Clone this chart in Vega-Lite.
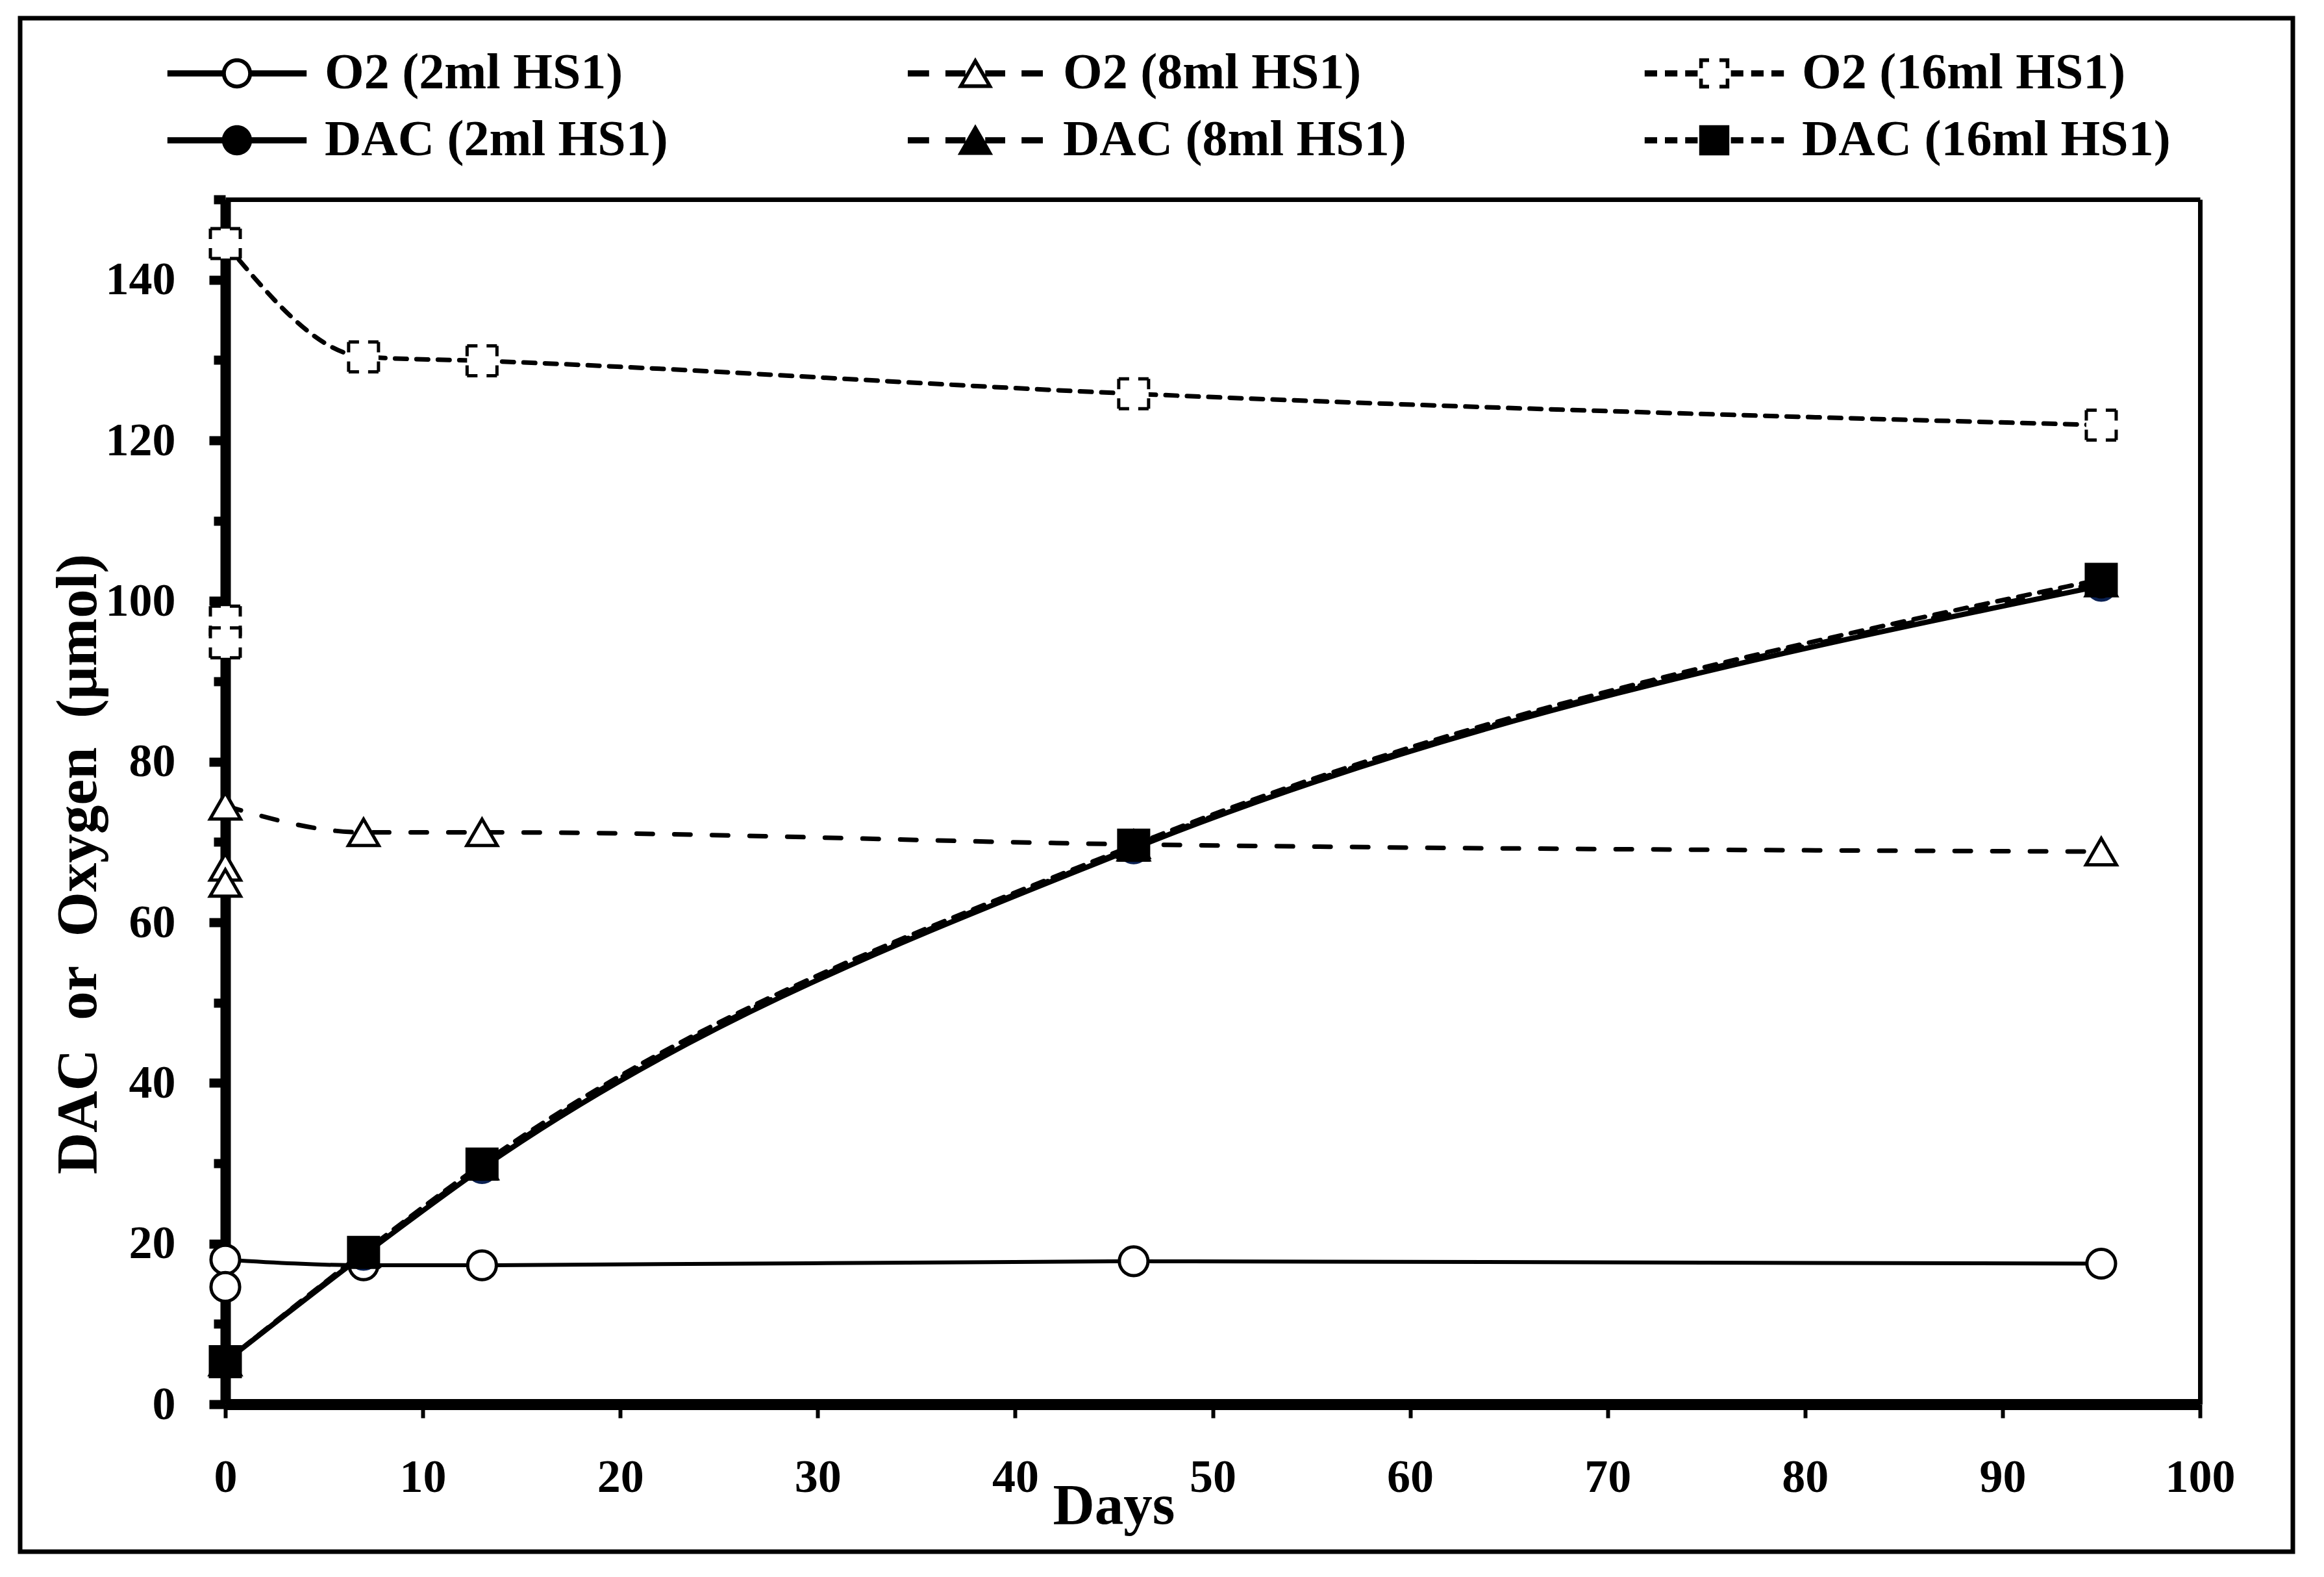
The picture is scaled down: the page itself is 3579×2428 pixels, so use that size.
{
  "$schema": "https://vega.github.io/schema/vega-lite/v6.json",
  "width": 3500,
  "height": 2361,
  "autosize": {"type": "none"},
  "padding": {"left": 31, "top": 28, "right": 48, "bottom": 39},
  "background": "white",
  "config": {
    "font": "Liberation Serif",
    "view": {"stroke": "black", "strokeWidth": 7},
    "axis": {
      "grid": false,
      "domainColor": "black",
      "tickColor": "black",
      "labelColor": "black",
      "titleColor": "black",
      "labelFont": "Liberation Serif",
      "titleFont": "Liberation Serif",
      "labelFontWeight": "bold",
      "titleFontWeight": "bold",
      "labelFlush": false,
      "labelOverlap": false
    }
  },
  "datasets": {
    "obs": [
      {"series": "O2 (2ml HS1)", "day": 0, "value": 18.0, "rep": 1},
      {"series": "O2 (2ml HS1)", "day": 7, "value": 17.3, "rep": 1},
      {"series": "O2 (2ml HS1)", "day": 13, "value": 17.3, "rep": 1},
      {"series": "O2 (2ml HS1)", "day": 46, "value": 17.8, "rep": 1},
      {"series": "O2 (2ml HS1)", "day": 95, "value": 17.5, "rep": 1},
      {"series": "O2 (2ml HS1)", "day": 0, "value": 14.6, "rep": 2},
      {"series": "O2 (8ml HS1)", "day": 0, "value": 74.5, "rep": 1},
      {"series": "O2 (8ml HS1)", "day": 7, "value": 71.2, "rep": 1},
      {"series": "O2 (8ml HS1)", "day": 13, "value": 71.2, "rep": 1},
      {"series": "O2 (8ml HS1)", "day": 46, "value": 69.7, "rep": 1},
      {"series": "O2 (8ml HS1)", "day": 95, "value": 68.8, "rep": 1},
      {"series": "O2 (8ml HS1)", "day": 0, "value": 66.9, "rep": 2},
      {"series": "O2 (8ml HS1)", "day": 0, "value": 64.9, "rep": 3},
      {"series": "O2 (16ml HS1)", "day": 0, "value": 144.5, "rep": 1},
      {"series": "O2 (16ml HS1)", "day": 7, "value": 130.4, "rep": 1},
      {"series": "O2 (16ml HS1)", "day": 13, "value": 129.9, "rep": 1},
      {"series": "O2 (16ml HS1)", "day": 46, "value": 125.8, "rep": 1},
      {"series": "O2 (16ml HS1)", "day": 95, "value": 121.9, "rep": 1},
      {"series": "O2 (16ml HS1)", "day": 0, "value": 97.5, "rep": 2},
      {"series": "O2 (16ml HS1)", "day": 0, "value": 94.8, "rep": 3},
      {"series": "DAC (2ml HS1)", "day": 0, "value": 5.3, "rep": 1},
      {"series": "DAC (2ml HS1)", "day": 7, "value": 18.6, "rep": 1},
      {"series": "DAC (2ml HS1)", "day": 13, "value": 29.4, "rep": 1},
      {"series": "DAC (2ml HS1)", "day": 46, "value": 69.2, "rep": 1},
      {"series": "DAC (2ml HS1)", "day": 95, "value": 101.9, "rep": 1},
      {"series": "DAC (8ml HS1)", "day": 0, "value": 5.3, "rep": 1},
      {"series": "DAC (8ml HS1)", "day": 7, "value": 18.8, "rep": 1},
      {"series": "DAC (8ml HS1)", "day": 13, "value": 29.7, "rep": 1},
      {"series": "DAC (8ml HS1)", "day": 46, "value": 69.4, "rep": 1},
      {"series": "DAC (8ml HS1)", "day": 95, "value": 102.3, "rep": 1},
      {"series": "DAC (16ml HS1)", "day": 0, "value": 5.3, "rep": 1},
      {"series": "DAC (16ml HS1)", "day": 7, "value": 18.9, "rep": 1},
      {"series": "DAC (16ml HS1)", "day": 13, "value": 29.9, "rep": 1},
      {"series": "DAC (16ml HS1)", "day": 46, "value": 69.6, "rep": 1},
      {"series": "DAC (16ml HS1)", "day": 95, "value": 102.7, "rep": 1}
    ]
  },
  "data": {"name": "obs"},
  "layer": [
    {
      "encoding": {
        "x": {
          "field": "day",
          "type": "quantitative",
          "scale": {"domain": [0, 100], "range": [316, 3357], "nice": false, "zero": false},
          "axis": {
            "title": "Days",
            "offset": -227,
            "values": [0, 10, 20, 30, 40, 50, 60, 70, 80, 90, 100],
            "domainWidth": 17,
            "tickSize": 21,
            "tickWidth": 6,
            "labelFontSize": 72,
            "labelPadding": 56,
            "titleFontSize": 89,
            "titleX": 1684,
            "titleY": 183,
            "titleBaseline": "alphabetic",
            "titleAlign": "center"
          }
        },
        "y": {
          "field": "value",
          "type": "quantitative",
          "scale": {"domain": [0, 150], "range": [2134, 279], "nice": false, "zero": false},
          "axis": {
            "title": "DAC\u00a0\u00a0or\u00a0\u00a0Oxygen\u00a0\u00a0(μmol)",
            "offset": -316,
            "values": [0, 10, 20, 30, 40, 50, 60, 70, 80, 90, 100, 110, 120, 130, 140, 150],
            "domainWidth": 16,
            "tickWidth": 14,
            "tickSize": {"condition": {"test": "datum.value % 20 === 0", "value": 25}, "value": 18},
            "labelExpr": "datum.value % 20 === 0 && datum.value < 150 ? datum.label : ''",
            "labelFontSize": 72,
            "labelPadding": 52,
            "titleFontSize": 89,
            "titleAngle": 270,
            "titleX": -200,
            "titleY": 1302,
            "titleBaseline": "alphabetic",
            "titleAlign": "center"
          }
        }
      },
      "layer": [
        {
          "transform": [{"filter": "datum.rep === 1 && datum.series === 'O2 (2ml HS1)'"}],
          "mark": {"type": "line", "interpolate": "monotone", "color": "black", "strokeCap": "round", "strokeWidth": 6}
        },
        {
          "transform": [{"filter": "datum.rep === 1 && (datum.series === 'O2 (8ml HS1)' || datum.series === 'DAC (8ml HS1)')"}],
          "mark": {"type": "line", "interpolate": "monotone", "color": "black", "strokeCap": "round", "strokeWidth": 7, "strokeDash": [25, 33]},
          "encoding": {"detail": {"field": "series", "type": "nominal"}}
        },
        {
          "transform": [{"filter": "datum.rep === 1 && (datum.series === 'O2 (16ml HS1)' || datum.series === 'DAC (16ml HS1)')"}],
          "mark": {"type": "line", "interpolate": "monotone", "color": "black", "strokeCap": "round", "strokeWidth": 7, "strokeDash": [18, 15]},
          "encoding": {"detail": {"field": "series", "type": "nominal"}}
        },
        {
          "transform": [{"filter": "datum.rep === 1 && datum.series === 'DAC (2ml HS1)'"}],
          "mark": {"type": "line", "interpolate": "monotone", "color": "black", "strokeCap": "round", "strokeWidth": 8}
        },
        {
          "transform": [{"filter": "datum.series === 'O2 (2ml HS1)'"}],
          "mark": {"type": "point", "shape": "circle", "size": 1950, "filled": true, "fill": "white", "stroke": "black", "strokeWidth": 5, "opacity": 1}
        },
        {
          "transform": [{"filter": "datum.series === 'O2 (8ml HS1)'"}],
          "mark": {"type": "point", "shape": "triangle-up", "size": 2200, "filled": true, "fill": "white", "stroke": "black", "strokeWidth": 5, "opacity": 1}
        },
        {
          "transform": [{"filter": "datum.series === 'O2 (16ml HS1)'"}],
          "mark": {"type": "point", "shape": "square", "size": 2116, "filled": true, "fill": "white", "stroke": "black", "strokeWidth": 5, "strokeDash": [16, 14, 16, 0], "opacity": 1}
        },
        {
          "transform": [{"filter": "datum.series === 'DAC (2ml HS1)'"}],
          "mark": {"type": "point", "shape": "circle", "size": 1950, "filled": true, "fill": "black", "stroke": "#0b2152", "strokeWidth": 5, "opacity": 1}
        },
        {
          "transform": [{"filter": "datum.series === 'DAC (8ml HS1)'"}],
          "mark": {"type": "point", "shape": "triangle-up", "size": 2200, "filled": true, "fill": "black", "stroke": "black", "strokeWidth": 5, "opacity": 1}
        },
        {
          "transform": [{"filter": "datum.series === 'DAC (16ml HS1)'"}],
          "mark": {"type": "point", "shape": "square", "size": 2116, "filled": true, "fill": "black", "stroke": "black", "strokeWidth": 5, "opacity": 1}
        }
      ]
    },
    {
      "transform": [{"filter": "datum.rep > 9"}],
      "mark": {"type": "point", "filled": true, "opacity": 1},
      "encoding": {
        "x": {
          "field": "day",
          "type": "quantitative",
          "scale": {"domain": [0, 100], "range": [316, 3357], "nice": false, "zero": false},
          "axis": {"orient": "top", "offset": -279, "domainWidth": 7, "ticks": false, "labels": false, "title": null, "grid": false}
        },
        "y": {
          "field": "value",
          "type": "quantitative",
          "scale": {"domain": [0, 150], "range": [2134, 279], "nice": false, "zero": false},
          "axis": {"orient": "right", "offset": -143, "domainWidth": 7, "ticks": false, "labels": false, "title": null, "grid": false}
        },
        "shape": {
          "field": "series",
          "type": "nominal",
          "scale": {
            "domain": ["O2 (2ml HS1)", "O2 (8ml HS1)", "O2 (16ml HS1)", "DAC (2ml HS1)", "DAC (8ml HS1)", "DAC (16ml HS1)"],
            "range": [
              "M-2.68,-0.12L-0.5,-0.12L-0.5,0.12L-2.68,0.12Z M0.5,-0.12L2.68,-0.12L2.68,0.12L0.5,0.12Z M0.58,0C0.58,0.32,0.32,0.58,0,0.58C-0.32,0.58,-0.58,0.32,-0.58,0C-0.58,-0.32,-0.32,-0.58,0,-0.58C0.32,-0.58,0.58,-0.32,0.58,0Z M0.43,0C0.43,-0.24,0.24,-0.43,0,-0.43C-0.24,-0.43,-0.43,-0.24,-0.43,0C-0.43,0.24,-0.24,0.43,0,0.43C0.24,0.43,0.43,0.24,0.43,0Z",
              "M-2.6,-0.12L-1.78,-0.12L-1.78,0.12L-2.6,0.12Z M-1.15,-0.12L-0.38,-0.12L-0.38,0.12L-1.15,0.12Z M0.38,-0.12L1.15,-0.12L1.15,0.12L0.38,0.12Z M1.78,-0.12L2.6,-0.12L2.6,0.12L1.78,0.12Z M0,-0.62L0.68,0.56L-0.68,0.56Z M0,-0.34L-0.44,0.42L0.44,0.42Z",
              "M-2.68,-0.12L-2.2,-0.12L-2.2,0.12L-2.68,0.12Z M-1.9,-0.12L-1.42,-0.12L-1.42,0.12L-1.9,0.12Z M-1.12,-0.12L-0.64,-0.12L-0.64,0.12L-1.12,0.12Z M0.64,-0.12L1.12,-0.12L1.12,0.12L0.64,0.12Z M1.42,-0.12L1.9,-0.12L1.9,0.12L1.42,0.12Z M2.2,-0.12L2.68,-0.12L2.68,0.12L2.2,0.12Z M-0.58,-0.58L-0.2,-0.58L-0.2,-0.44L-0.44,-0.44L-0.44,-0.2L-0.58,-0.2Z M0.2,-0.58L0.58,-0.58L0.58,-0.2L0.44,-0.2L0.44,-0.44L0.2,-0.44Z M0.58,0.2L0.58,0.58L0.2,0.58L0.2,0.44L0.44,0.44L0.44,0.2Z M-0.2,0.58L-0.58,0.58L-0.58,0.2L-0.44,0.2L-0.44,0.44L-0.2,0.44Z",
              "M-2.68,-0.12L-0.5,-0.12L-0.5,0.12L-2.68,0.12Z M0.5,-0.12L2.68,-0.12L2.68,0.12L0.5,0.12Z M0.58,0C0.58,0.32,0.32,0.58,0,0.58C-0.32,0.58,-0.58,0.32,-0.58,0C-0.58,-0.32,-0.32,-0.58,0,-0.58C0.32,-0.58,0.58,-0.32,0.58,0Z",
              "M-2.6,-0.12L-1.78,-0.12L-1.78,0.12L-2.6,0.12Z M-1.15,-0.12L-0.38,-0.12L-0.38,0.12L-1.15,0.12Z M0.38,-0.12L1.15,-0.12L1.15,0.12L0.38,0.12Z M1.78,-0.12L2.6,-0.12L2.6,0.12L1.78,0.12Z M0,-0.62L0.68,0.56L-0.68,0.56Z",
              "M-2.68,-0.12L-2.2,-0.12L-2.2,0.12L-2.68,0.12Z M-1.9,-0.12L-1.42,-0.12L-1.42,0.12L-1.9,0.12Z M-1.12,-0.12L-0.64,-0.12L-0.64,0.12L-1.12,0.12Z M0.64,-0.12L1.12,-0.12L1.12,0.12L0.64,0.12Z M1.42,-0.12L1.9,-0.12L1.9,0.12L1.42,0.12Z M2.2,-0.12L2.68,-0.12L2.68,0.12L2.2,0.12Z M-0.58,-0.58L0.58,-0.58L0.58,0.58L-0.58,0.58Z"
            ]
          },
          "legend": {
            "orient": "none",
            "legendX": 227,
            "legendY": 45,
            "direction": "horizontal",
            "columns": 3,
            "columnPadding": 366,
            "rowPadding": 24,
            "title": null,
            "padding": 0,
            "symbolSize": 6400,
            "symbolOffset": 67,
            "symbolStrokeWidth": 0,
            "labelFont": "Liberation Serif",
            "labelFontSize": 78,
            "labelFontWeight": "bold",
            "labelColor": "black",
            "labelLimit": 1000,
            "labelOffset": 95
          }
        },
        "fill": {
          "field": "series",
          "type": "nominal",
          "scale": {
            "domain": ["O2 (2ml HS1)", "O2 (8ml HS1)", "O2 (16ml HS1)", "DAC (2ml HS1)", "DAC (8ml HS1)", "DAC (16ml HS1)"],
            "range": ["black", "black", "black", "black", "black", "black"]
          }
        }
      }
    }
  ],
  "resolve": {"axis": {"x": "independent", "y": "independent"}}
}
